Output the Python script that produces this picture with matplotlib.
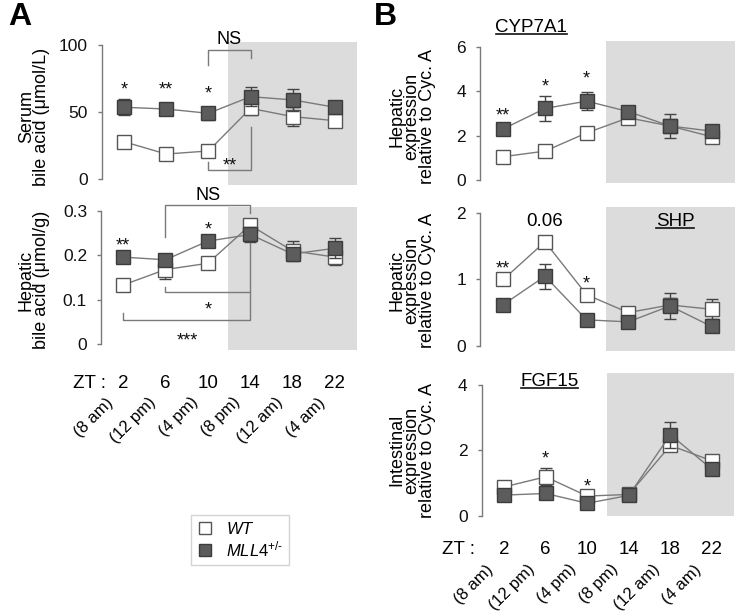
import matplotlib
matplotlib.use("Agg")
import matplotlib.pyplot as plt
from matplotlib.lines import Line2D
from matplotlib.transforms import blended_transform_factory

plt.rcParams['font.family'] = ['Liberation Sans', 'DejaVu Sans']
plt.rcParams['mathtext.fontset'] = 'custom'
plt.rcParams['mathtext.rm'] = 'Liberation Sans'
plt.rcParams['mathtext.it'] = 'Liberation Sans:italic'

# ---------------- data ----------------
zt = [2, 6, 10, 14, 18, 22]
zt_labels = ["2", "6", "10", "14", "18", "22"]
clock_labels = ["(8 am)", "(12 pm)", "(4 pm)", "(8 pm)", "(12 am)", "(4 am)"]

serum_wt = [27.8, 18.6, 20.9, 52.7, 46.5, 43.5]
serum_wt_err = [3, 2, 3, 5, 7, 4.5]
serum_mll = [53.5, 52.2, 49.0, 61.4, 59.0, 53.5]
serum_mll_err = [6, 3, 5, 7, 8.5, 4]

hep_wt = [0.133, 0.168, 0.182, 0.268, 0.21, 0.196]
hep_wt_err = [0.005, 0.022, 0.008, 0.01, 0.022, 0.018]
hep_mll = [0.196, 0.19, 0.232, 0.247, 0.203, 0.216]
hep_mll_err = [0.005, 0.01, 0.008, 0.017, 0.01, 0.022]

cyp_wt = [1.05, 1.3, 2.12, 2.8, 2.43, 1.95]
cyp_wt_err = [0.1, 0.1, 0.15, 0.1, 0.2, 0.15]
cyp_mll = [2.3, 3.22, 3.55, 3.08, 2.43, 2.2]
cyp_mll_err = [0.15, 0.55, 0.4, 0.2, 0.52, 0.2]

shp_wt = [1.0, 1.57, 0.77, 0.5, 0.615, 0.55]
shp_wt_err = [0.03, 0.08, 0.06, 0.05, 0.1, 0.15]
shp_mll = [0.62, 1.05, 0.39, 0.36, 0.6, 0.29]
shp_mll_err = [0.03, 0.19, 0.03, 0.05, 0.2, 0.05]

fgf_wt = [0.88, 1.19, 0.6, 0.65, 2.15, 1.68]
fgf_wt_err = [0.05, 0.26, 0.08, 0.05, 0.1, 0.1]
fgf_mll = [0.63, 0.68, 0.38, 0.62, 2.48, 1.42]
fgf_mll_err = [0.05, 0.05, 0.05, 0.05, 0.4, 0.05]

# significance marks: (x, y, text)
serum_sig = [(2, 71, "*"), (6, 71, "**"), (10, 68, "*")]
hep_sig = [(2, 0.235, "**"), (10, 0.27, "*")]
cyp_sig = [(2, 3.15, "**"), (6, 4.46, "*"), (10, 4.83, "*")]
shp_sig = [(2, 1.245, "**"), (10, 1.02, "*")]
fgf_sig = [(6, 1.91, "*"), (10, 1.06, "*")]

# ---------------- figure ----------------
W, H = 737, 615
fig = plt.figure(figsize=(W / 100, H / 100), dpi=100)

def add_ax(l, t, r, b):
    return fig.add_axes([l / W, 1 - b / H, (r - l) / W, (b - t) / H])

GRAY_LINE = "#7a7a7a"
DARK_FILL = "#5c5c5c"
DARK_EDGE = "#3c3c3c"
SHADE = "#dcdcdc"

def style_axis(ax, xlim, ylim, yticks, yticklabels, shade_from):
    ax.set_xlim(*xlim)
    ax.set_ylim(*ylim)
    for s in ["top", "right", "bottom"]:
        ax.spines[s].set_visible(False)
    ax.spines["left"].set_color(GRAY_LINE)
    ax.spines["left"].set_linewidth(1.0)
    ax.spines["left"].set_bounds(yticks[0], yticks[-1])
    ax.set_yticks(yticks)
    ax.set_yticklabels(yticklabels)
    ax.tick_params(axis="y", length=3, width=1, color=GRAY_LINE, pad=7,
                   labelsize=12.5, labelcolor="#111111")
    ax.set_xticks([])
    ax.axvspan(shade_from, xlim[1], color=SHADE, zorder=0, lw=0)
    ax.patch.set_alpha(0)

def plot_series(ax, wt, wt_err, mll, mll_err):
    for y, e, fc, ec, z in [(wt, wt_err, "white", "#555555", 3),
                            (mll, mll_err, DARK_FILL, DARK_EDGE, 4)]:
        ax.errorbar(zt, y, yerr=e, fmt="none", ecolor="#444444", elinewidth=1,
                    capsize=4, capthick=1, zorder=z - 1)
        ax.plot(zt, y, "-", color=GRAY_LINE, lw=1, zorder=z - 1)
        ax.plot(zt, y, "s", ms=9.5, mfc=fc, mec=ec, mew=1, zorder=z)

STAR_SIZE = 13

def add_sig(ax, marks, size=STAR_SIZE):
    # star glyph centre sits ~0.58 em above baseline
    for x, y, t in marks:
        ax.annotate(t, xy=(x, y), xytext=(0, -0.58 * size), textcoords="offset points",
                    ha="center", va="baseline", fontsize=size, color="#111111",
                    zorder=6, annotation_clip=False)

def bracket(ax, pts):
    xs = [p[0] for p in pts]
    ys = [p[1] for p in pts]
    ax.plot(xs, ys, color=GRAY_LINE, lw=1, zorder=5, clip_on=False)

xlimA = (-0.085, 24.085)
xlimB = (-0.236, 24.24)

# ---------- Panel A top ----------
axA1 = add_ax(102, 42, 357, 185)
style_axis(axA1, xlimA, (-4.5, 102.2), [0, 50, 100], ["0", "50", "100"], 11.9)
plot_series(axA1, serum_wt, serum_wt_err, serum_mll, serum_mll_err)
add_sig(axA1, serum_sig)
bracket(axA1, [(10, 85), (10, 96.3), (14, 96.3), (14, 90)])
axA1.text(12, 104, "NS", ha="center", va="center", fontsize=13, clip_on=False)
bracket(axA1, [(10, 12.7), (10, 6.7), (14, 6.7), (14, 38.8)])
add_sig(axA1, [(12.05, 14, "**")])

# ---------- Panel A bottom ----------
axA2 = add_ax(101, 207, 357, 350)
style_axis(axA2, xlimA, (-0.0135, 0.309), [0, 0.1, 0.2, 0.3],
           ["0", "0.1", "0.2", "0.3"], 11.9)
plot_series(axA2, hep_wt, hep_wt_err, hep_mll, hep_mll_err)
add_sig(axA2, hep_sig)
bracket(axA2, [(6, 0.242), (6, 0.314), (14, 0.314), (14, 0.296)])
axA2.text(10, 0.336, "NS", ha="center", va="center", fontsize=13, clip_on=False)
bracket(axA2, [(6, 0.129), (6, 0.117), (14, 0.117), (14, 0.228)])
add_sig(axA2, [(10, 0.09, "*")])
bracket(axA2, [(2, 0.069), (2, 0.054), (14, 0.054), (14, 0.117)])
add_sig(axA2, [(8.07, 0.02, "***")])

# ---------- Panel B top ----------
axB1 = add_ax(480, 40.7, 735, 183)
style_axis(axB1, xlimB, (-0.135, 6.27), [0, 2, 4, 6], ["0", "2", "4", "6"], 11.86)
plot_series(axB1, cyp_wt, cyp_wt_err, cyp_mll, cyp_mll_err)
add_sig(axB1, cyp_sig)

# ---------- Panel B middle ----------
axB2 = add_ax(480, 206.7, 735, 350.7)
style_axis(axB2, xlimB, (-0.076, 2.1), [0, 1, 2], ["0", "1", "2"], 11.86)
plot_series(axB2, shp_wt, shp_wt_err, shp_mll, shp_mll_err)
add_sig(axB2, shp_sig)
axB2.text(6, 1.87, "0.06", ha="center", va="center", fontsize=13.5, clip_on=False)

# ---------- Panel B bottom ----------
axB3 = add_ax(481.5, 373.3, 734, 516)
style_axis(axB3, (-0.17, 24.12), (-0.01, 4.36), [0, 2, 4], ["0", "2", "4"], 11.9)
plot_series(axB3, fgf_wt, fgf_wt_err, fgf_mll, fgf_mll_err)
add_sig(axB3, fgf_sig)

# ---------- underlined gene titles ----------
titles = [(axB1, 4.7, 6.85, "CYP7A1"), (axB2, 18.5, 1.87, "SHP"), (axB3, 6.4, 4.1, "FGF15")]
title_texts = []
for ax, x, y, t in titles:
    tt = ax.text(x, y, t, ha="center", va="center", fontsize=13.5, clip_on=False, zorder=6)
    title_texts.append(tt)

# ---------- y labels ----------
def ylab(x, y, s, ls=0.85):
    fig.text(x / W, 1 - y / H, s, rotation=90, ha="center", va="center",
             multialignment="center", fontsize=13, linespacing=ls)

ylab(34, 117, "Serum\nbile acid (\u03bcmol/L)")
ylab(34, 280, "Hepatic\nbile acid (\u03bcmol/g)")
ylab(412, 116, "Hepatic\nexpression\nrelative to Cyc. A")
ylab(412, 280, "Hepatic\nexpression\nrelative to Cyc. A")
ylab(412, 450, "Intestinal\nexpression\nrelative to Cyc. A")

# ---------- x labels ----------
def xlabels(ax, zt_x, num_y, rot_y, off_px):
    tr = blended_transform_factory(ax.transData, fig.transFigure)
    fig.text(zt_x / W, 1 - num_y / H, "ZT :", ha="left", va="center", fontsize=13.5)
    for x, n, c in zip(zt, zt_labels, clock_labels):
        ax.text(x, 1 - num_y / H, n, transform=tr, ha="center", va="center",
                fontsize=13.5, clip_on=False)
        ax.annotate(c, xy=(x, 1 - rot_y / H), xycoords=tr,
                    xytext=(off_px * 0.72, 0), textcoords="offset points",
                    rotation=45, rotation_mode="anchor", ha="right", va="center",
                    fontsize=12, annotation_clip=False)

xlabels(axA2, 73, 383, 400, -12)
xlabels(axB3, 442, 550, 567, -13)

# ---------- panel letters ----------
fig.text(8 / W, 1 - 17 / H, "A", fontsize=23, fontweight="bold", ha="left", va="center")
fig.text(374 / W, 1 - 17 / H, "B", fontsize=23, fontweight="bold", ha="left", va="center")

# ---------- legend ----------
handles = [Line2D([], [], ls="none", marker="s", ms=9, mfc="white", mec="#555555", mew=1),
           Line2D([], [], ls="none", marker="s", ms=9, mfc=DARK_FILL, mec=DARK_EDGE, mew=1)]
leg = fig.legend(handles, [r"$\mathit{WT}$", r"$\mathit{MLL4}^{+/\text{-}}$"],
                 loc="center", bbox_to_anchor=(240 / W, 1 - 540 / H),
                 frameon=True, fancybox=False, fontsize=12, handlelength=1.0,
                 handletextpad=0.8, borderpad=0.35, labelspacing=0.15)
leg.get_frame().set_edgecolor("#c8c8c8")
leg.get_frame().set_linewidth(1)

# underline titles
fig.canvas.draw()
r = fig.canvas.get_renderer()
for tt in title_texts:
    bb = tt.get_window_extent(renderer=r)
    yline = bb.y0 + 2
    fig.add_artist(Line2D([bb.x0 / W + 0.5 / W, bb.x1 / W - 0.5 / W],
                          [yline / H, yline / H], color="#111111", lw=1.2))

fig.savefig("out.png", dpi=100)
